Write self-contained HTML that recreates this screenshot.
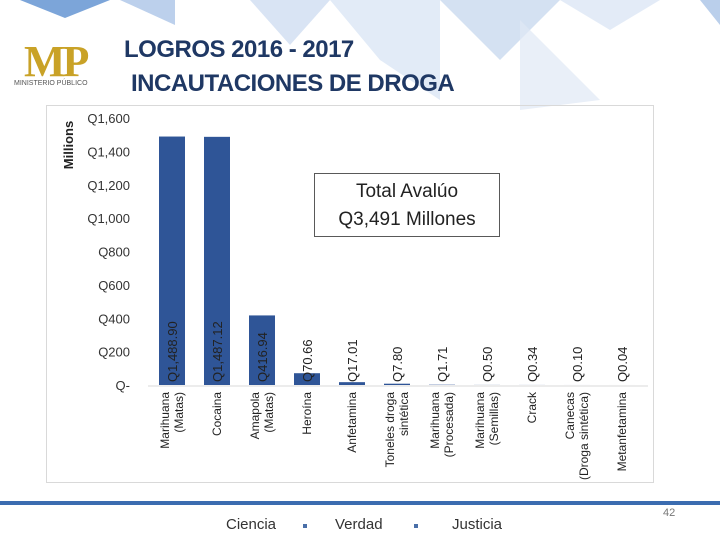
<!DOCTYPE html>
<html><head><meta charset="utf-8"><style>
body{margin:0;width:720px;height:540px;overflow:hidden;background:#fff;font-family:"Liberation Sans",sans-serif;position:relative}
.t{position:absolute;font-family:"Liberation Sans Narrow","Liberation Sans",sans-serif;color:#1f3864;font-size:24px;font-weight:bold;letter-spacing:-0.5px}
</style></head><body>
<svg width="720" height="540" style="position:absolute;left:0;top:0">
<polygon points="20,0 110,0 65,18" fill="#5b8fd0" opacity="0.8"/>
<polygon points="120,0 175,0 175,25" fill="#8fb1df" opacity="0.6"/>
<polygon points="250,0 330,0 290,45" fill="#c9d9ef" opacity="0.7"/>
<polygon points="330,0 440,0 440,100 380,60" fill="#d6e3f3" opacity="0.7"/>
<polygon points="440,0 560,0 500,60" fill="#b7cde9" opacity="0.6"/>
<polygon points="520,20 600,100 520,110" fill="#dfe8f5" opacity="0.7"/>
<polygon points="560,0 660,0 610,30" fill="#d0def1" opacity="0.6"/>
<polygon points="700,0 720,0 720,25" fill="#9dbbe3" opacity="0.7"/>
<rect x="0" y="501" width="720" height="4" fill="#3b6cb0"/>
</svg>
<div style="position:absolute;left:8px;top:36px;width:98px;height:60px">
<div style="position:absolute;left:16px;top:0;font:bold 44px 'Liberation Serif',serif;color:#c9a227;letter-spacing:-3px">MP</div>
<div style="position:absolute;left:6px;top:44px;font-size:7px;color:#555">MINISTERIO PÚBLICO</div>
</div>
<div class="t" style="left:124px;top:36px">LOGROS 2016 - 2017</div>
<div class="t" style="left:131px;top:70px">INCAUTACIONES DE DROGA</div>
<div style="position:absolute;left:46px;top:105px;width:606px;height:376px;border:1px solid #d9d9d9"></div>
<svg id="chart" width="720" height="540" style="position:absolute;left:0;top:0"></svg>
<div style="position:absolute;left:314px;top:173px;width:186px;height:64px;border:1px solid #595959;background:#fff;text-align:center;font-size:19px;line-height:28px;color:#222;padding-top:4px;box-sizing:border-box">Total Avalúo<br>Q3,491 Millones</div>
<div style="position:absolute;left:226px;top:516px;font-size:15px;color:#333">Ciencia</div>
<div style="position:absolute;left:303px;top:524px;width:4px;height:4px;background:#4a6fa8"></div>
<div style="position:absolute;left:335px;top:516px;font-size:15px;color:#333">Verdad</div>
<div style="position:absolute;left:414px;top:524px;width:4px;height:4px;background:#4a6fa8"></div>
<div style="position:absolute;left:452px;top:516px;font-size:15px;color:#333">Justicia</div>
<div style="position:absolute;left:663px;top:507px;font-size:11px;color:#777">42</div>
<script>
const categories=[["Marihuana","(Matas)"],["Cocaina"],["Amapola","(Matas)"],["Heroína"],["Anfetamina"],["Toneles droga","sintética"],["Marihuana","(Procesada)"],["Marihuana","(Semillas)"],["Crack"],["Canecas","(Droga sintética)"],["Metanfetamina"]];
const values=[1488.90,1487.12,416.94,70.66,17.01,7.80,1.71,0.50,0.34,0.10,0.04];
const valueLabels=["Q1,488.90","Q1,487.12","Q416.94","Q70.66","Q17.01","Q7.80","Q1.71","Q0.50","Q0.34","Q0.10","Q0.04"];
const ticks=[0,200,400,600,800,1000,1200,1400,1600];
const tickLabels=["Q-","Q200","Q400","Q600","Q800","Q1,000","Q1,200","Q1,400","Q1,600"];
const svg=document.getElementById('chart');const NS="http://www.w3.org/2000/svg";
const y0=385,y1=118,vmax=1600;
const y=v=>y0-(v/vmax)*(y0-y1);
const x=i=>172+i*45;
function mk(t,a){const e=document.createElementNS(NS,t);for(const k in a)e.setAttribute(k,a[k]);svg.appendChild(e);return e;}
ticks.forEach((t,i)=>{const e=mk('text',{x:130,y:y(t)+5,'text-anchor':'end','font-size':13,fill:'#333','font-family':'Liberation Sans,sans-serif'});e.textContent=tickLabels[i];

});
const at=mk('text',{transform:'translate(73,145) rotate(-90)','text-anchor':'middle','font-size':13,'font-weight':'bold',fill:'#222'});at.textContent='Millions';


const ax=mk('line',{x1:148,x2:648,y1:386,y2:386,stroke:'#d9d9d9'});


values.forEach((v,i)=>{
const b=mk('rect',{x:x(i)-13,y:y(v),width:26,height:Math.max(0,y0-y(v)),fill:'#2f5597'});


const l=mk('text',{transform:`translate(${x(i)+5},382) rotate(-90)`,'font-size':13,fill:'#222'});l.textContent=valueLabels[i];


const lines=categories[i];
lines.forEach((s,j)=>{const c=mk('text',{transform:`translate(${x(i)+4-(lines.length-1)*7+j*14},392) rotate(-90)`,'text-anchor':'end','font-size':12,fill:'#222'});c.textContent=s;

});
});
</script>
</body></html>
